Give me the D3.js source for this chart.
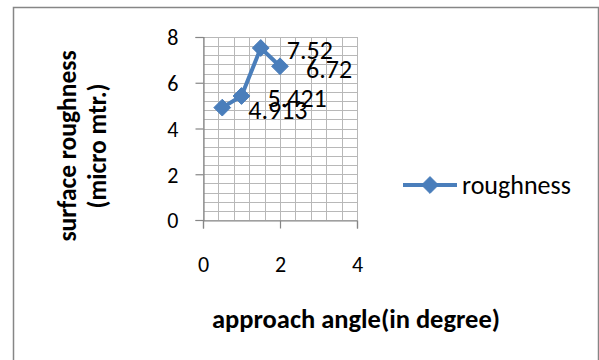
<!DOCTYPE html>
<html>
<head>
<meta charset="utf-8">
<script src="https://cdn.jsdelivr.net/npm/d3@7"></script>
<style>
  body { margin: 0; background: #fff; }
  text { font-family: Carlito, Calibri, Lato, sans-serif; fill: #000; }
</style>
</head>
<body>
<div id="chart"></div>
<script>
// data
var angles = [0.5, 1, 1.5, 2];
var roughness = [4.913, 5.421, 7.52, 6.72];
var labels = ["4.913", "5.421", "7.52", "6.72"];
var xTicks = [0, 2, 4];
var yTicks = [0, 2, 4, 6, 8];
var seriesName = "roughness";

var W = 599, H = 360;
var blue = "#4a7ebb";

var svg = d3.select("#chart").append("svg")
    .attr("width", W)
    .attr("height", H);

// chart frame
svg.append("rect")
    .attr("x", 13.5).attr("y", 7.5)
    .attr("width", 585).attr("height", 400)
    .attr("fill", "none")
    .attr("stroke", "#868686")
    .attr("stroke-width", 1.5);

var x = d3.scaleLinear().domain([0, 4]).range([203, 357]);
var y = d3.scaleLinear().domain([0, 8]).range([220, 37]);

// minor + major gridlines (every 0.4)
var gx = d3.range(0, 4.0001, 0.4), gy = d3.range(0, 8.0001, 0.4);
svg.append("g").selectAll("line").data(gx).enter().append("line")
    .attr("x1", function(d) { return Math.round(x(d)) + 0.5; })
    .attr("x2", function(d) { return Math.round(x(d)) + 0.5; })
    .attr("y1", y(8)).attr("y2", y(0))
    .attr("stroke", "#b8b8b8").attr("stroke-width", 1);
svg.append("g").selectAll("line").data(gy).enter().append("line")
    .attr("y1", function(d) { return Math.round(y(d)) + 0.5; })
    .attr("y2", function(d) { return Math.round(y(d)) + 0.5; })
    .attr("x1", x(0)).attr("x2", x(4))
    .attr("stroke", "#b8b8b8").attr("stroke-width", 1);

// axes
var yAxis = svg.append("g")
    .attr("transform", "translate(" + (Math.round(x(0)) + 0.5) + ",0)")
    .call(d3.axisLeft(y).tickValues(yTicks).tickSize(8).tickPadding(17).tickFormat(d3.format("d")));
var xAxis = svg.append("g")
    .attr("transform", "translate(0," + (Math.round(y(0)) + 0.5) + ")")
    .call(d3.axisBottom(x).tickValues(xTicks).tickSize(8).tickPadding(43).tickFormat(d3.format("d")));
[xAxis, yAxis].forEach(function(a) {
    a.select(".domain").attr("stroke", "#868686").attr("stroke-width", 1.2);
    a.selectAll(".tick line").attr("stroke", "#868686").attr("stroke-width", 1.2);
    a.selectAll(".tick text").style("font-size", "22px").attr("fill", "#000");
});
xAxis.selectAll(".tick text").attr("dy", "0");
yAxis.selectAll(".tick text").attr("dy", "0.36em");

// series line
var pts = angles.map(function(a, i) { return { x: a, y: roughness[i], label: labels[i] }; });
var line = d3.line()
    .x(function(d) { return x(d.x); })
    .y(function(d) { return y(d.y); });
svg.append("path")
    .datum(pts)
    .attr("d", line)
    .attr("fill", "none")
    .attr("stroke", blue)
    .attr("stroke-width", 4)
    .attr("stroke-linejoin", "round");

var diamond = d3.symbol().type(d3.symbolDiamond2).size(180);
svg.selectAll(".marker").data(pts).enter().append("path")
    .attr("class", "marker")
    .attr("d", diamond)
    .attr("transform", function(d) { return "translate(" + x(d.x) + "," + y(d.y) + ")"; })
    .attr("fill", blue)
    .attr("stroke", blue)
    .attr("stroke-width", 1);

// data labels, right of the point
svg.selectAll(".dlabel").data(pts).enter().append("text")
    .attr("class", "dlabel")
    .attr("x", function(d) { return x(d.x) + 26; })
    .attr("y", function(d) { return y(d.y) + 2; })
    .attr("dy", "0.36em")
    .style("font-size", "26px")
    .text(function(d) { return d.label; });

// legend
var lg = svg.append("g").attr("transform", "translate(403,185)");
lg.append("line").attr("x1", 0).attr("x2", 54).attr("y1", 0).attr("y2", 0)
    .attr("stroke", blue).attr("stroke-width", 4);
lg.append("path").attr("d", diamond).attr("transform", "translate(27,0)")
    .attr("fill", blue).attr("stroke", blue);
lg.append("text").attr("x", 59).attr("y", 0).attr("dy", "0.36em")
    .style("font-size", "26px").text(seriesName);

// axis titles
svg.append("text")
    .attr("x", 356).attr("y", 318).attr("dy", "0.36em")
    .attr("text-anchor", "middle")
    .style("font-size", "26.5px").style("font-weight", "bold")
    .text("approach angle(in degree)");

var yt = svg.append("text")
    .attr("transform", "translate(67,146) rotate(-90)")
    .attr("text-anchor", "middle")
    .style("font-size", "25.5px").style("font-weight", "bold");
yt.append("tspan").attr("x", 0).attr("y", 0).attr("dy", "0.36em").text("surface roughness");
yt.append("tspan").attr("x", 0).attr("y", 30).attr("dy", "0.36em").text("(micro mtr.)");
</script>
</body>
</html>
